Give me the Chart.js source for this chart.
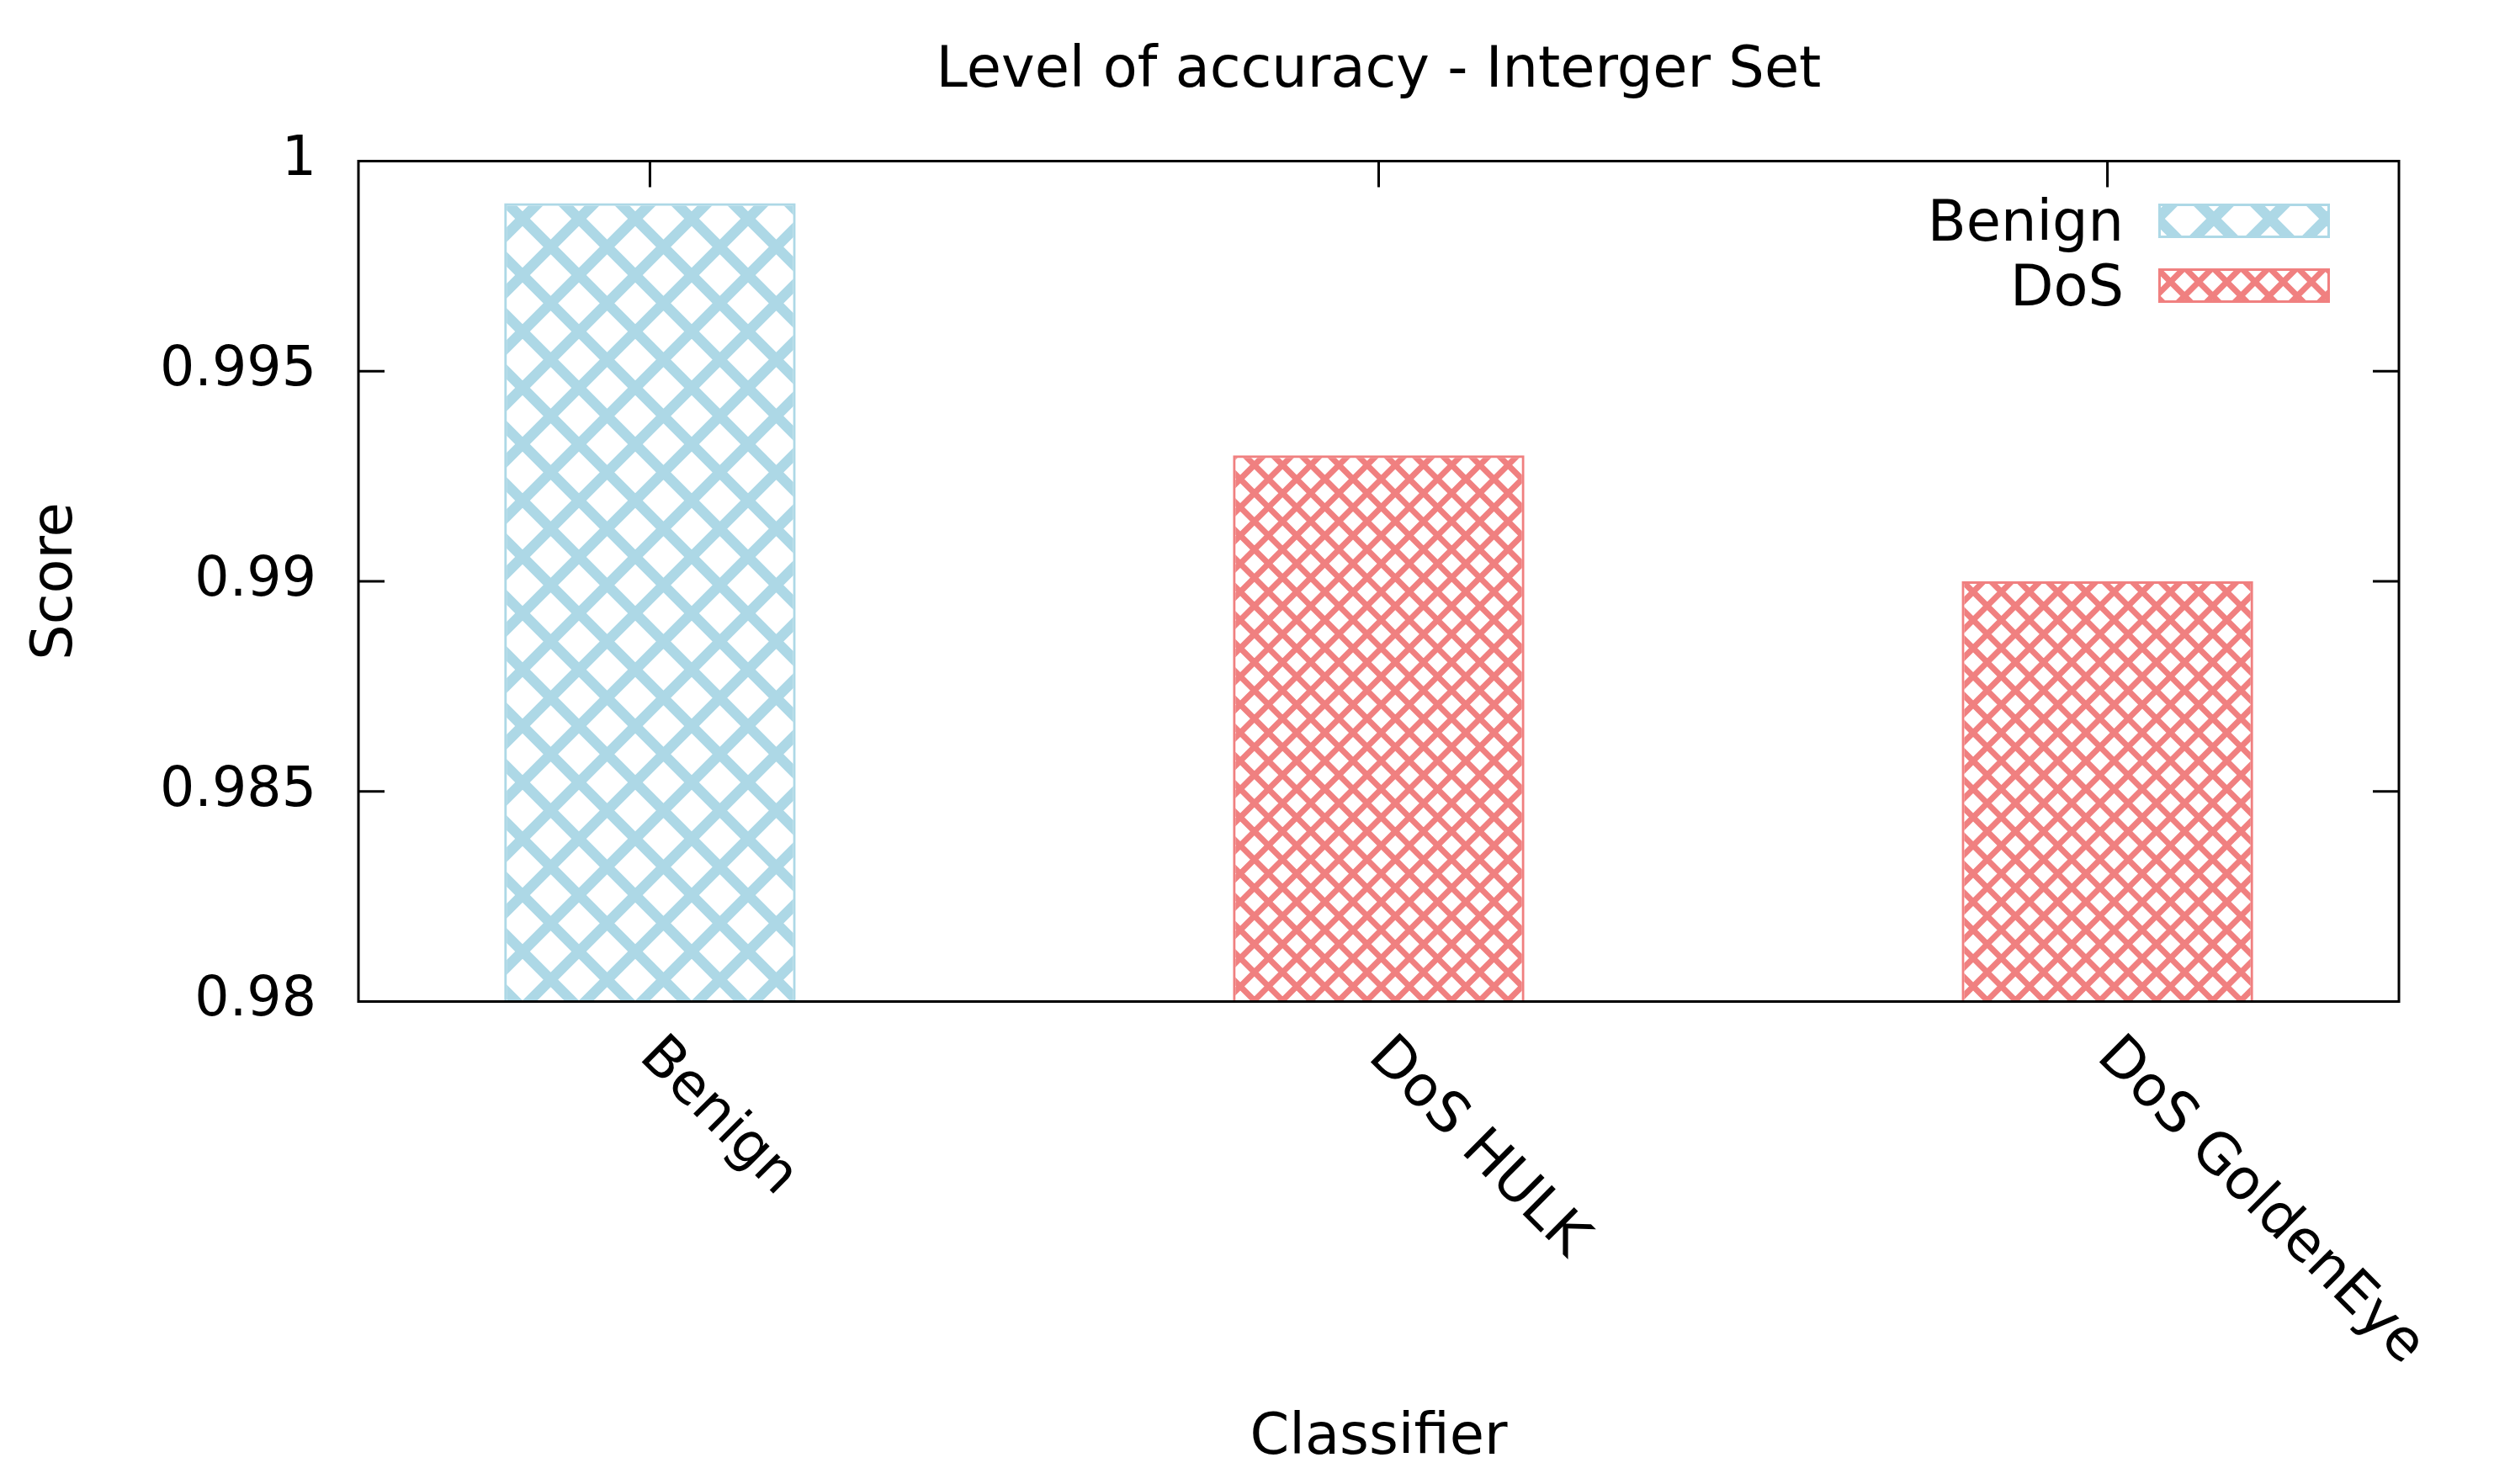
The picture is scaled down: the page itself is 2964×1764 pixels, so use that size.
<!DOCTYPE html>
<html>
<head>
<meta charset="utf-8">
<title>Level of accuracy - Interger Set</title>
<script src="https://cdn.jsdelivr.net/npm/chart.js@4/dist/chart.umd.min.js"></script>
<style>
  html, body { margin: 0; padding: 0; background: #fff; }
</style>
</head>
<body>
<canvas id="accChart" width="2964" height="1764"></canvas>
<script>
// data
const categories = ["Benign", "DoS HULK", "DoS GoldenEye"];
const classOf = ["Benign", "DoS", "DoS"];
const scores = [0.999, 0.993, 0.990];
const seriesNames = ["Benign", "DoS"];
const yTicks = [0.98, 0.985, 0.99, 0.995, 1];

const FONT = "DejaVu Sans";
Chart.defaults.font.family = FONT;
Chart.defaults.font.size = 67;
Chart.defaults.color = "#000";

// crosshatch fill like gnuplot's pattern
function hatch(color, tile, lines, lw, dx, dy) {
  const c = document.createElement("canvas");
  c.width = tile; c.height = tile;
  const g = c.getContext("2d");
  g.strokeStyle = color;
  g.lineWidth = lw;
  const step = tile / lines;
  g.beginPath();
  for (let k = -lines; k <= lines; k++) {
    const o = k * step;
    g.moveTo(o, 0); g.lineTo(o + tile, tile);
    g.moveTo(o + tile, 0); g.lineTo(o, tile);
  }
  g.stroke();
  const p = g.createPattern(c, "repeat");
  p.setTransform(new DOMMatrix().translateSelf(dx, dy));
  return p;
}

const colors = { Benign: "#add8e6", DoS: "#f08080" };
const fills = {
  Benign: hatch(colors.Benign, 67, 1, 12.5, 18, 59),
  DoS: hatch(colors.DoS, 67, 2, 7, 0, 0)
};

const datasets = seriesNames.map(name => ({
  label: name,
  data: categories
    .map((c, i) => ({ x: i, y: scores[i] }))
    .filter((p, i) => classOf[i] === name),
  backgroundColor: fills[name],
  borderColor: colors[name],
  borderWidth: 3,
  grouped: false,
  barPercentage: 0.4,
  categoryPercentage: 1
}));

// border, inward ticks, rotated category labels, key
const frame = {
  id: "frame",
  afterDatasetsDraw(chart) {
    const { ctx, chartArea: a, scales: { x, y } } = chart;
    ctx.save();
    ctx.strokeStyle = "#000";
    ctx.lineWidth = 3;
    ctx.beginPath();
    y.ticks.forEach(t => {
      const py = y.getPixelForValue(t.value);
      ctx.moveTo(a.left, py); ctx.lineTo(a.left + 31, py);
      ctx.moveTo(a.right, py); ctx.lineTo(a.right - 31, py);
    });
    x.ticks.forEach(t => {
      const px = x.getPixelForValue(t.value);
      ctx.moveTo(px, a.top); ctx.lineTo(px, a.top + 31);
    });
    ctx.stroke();
    ctx.strokeRect(a.left, a.top, a.right - a.left, a.bottom - a.top);

    ctx.fillStyle = "#000";
    ctx.font = "67px '" + FONT + "'";
    ctx.textAlign = "left";
    ctx.textBaseline = "middle";
    categories.forEach((c, i) => {
      ctx.save();
      ctx.translate(x.getPixelForValue(i) - 2, a.bottom + 55);
      ctx.rotate(Math.PI / 4);
      ctx.fillText(c, 0, 0);
      ctx.restore();
    });

    // key
    chart.data.datasets.forEach((ds, i) => {
      const cy = a.top + 71 + i * 77;
      ctx.fillStyle = "#000";
      ctx.textAlign = "right";
      ctx.fillText(ds.label, a.right - 327, cy + 6);
      const x0 = a.right - 286, w = 204, h = 41;
      ctx.fillStyle = ds.backgroundColor;
      ctx.fillRect(x0, cy - h / 2, w, h);
      ctx.strokeStyle = ds.borderColor;
      ctx.lineWidth = 3;
      ctx.strokeRect(x0 + 1.5, cy - h / 2 + 1.5, w - 3, h - 3);
    });
    ctx.restore();
  }
};

new Chart(document.getElementById("accChart"), {
  type: "bar",
  data: { datasets: datasets },
  options: {
    responsive: false,
    animation: false,
    devicePixelRatio: 1,
    events: [],
    layout: { padding: { left: 0, right: 113, top: 0, bottom: 0 } },
    plugins: {
      legend: { display: false },
      tooltip: { enabled: false },
      title: {
        display: true,
        text: "Level of accuracy - Interger Set",
        fullSize: false,
        font: { size: 67, weight: "normal" },
        color: "#000",
        padding: { top: 45, bottom: 66.1 }
      }
    },
    scales: {
      x: {
        type: "linear",
        min: -0.4,
        max: 2.4,
        offset: false,
        afterBuildTicks: s => { s.ticks = categories.map((c, i) => ({ value: i })); },
        grid: { display: false, drawTicks: false, offset: false },
        border: { display: false },
        ticks: { display: false },
        title: {
          display: true,
          text: "Classifier",
          font: { size: 67 },
          color: "#000",
          padding: { top: 479.6, bottom: 13.5 }
        }
      },
      y: {
        min: 0.98,
        max: 1,
        beginAtZero: false,
        afterBuildTicks: s => { s.ticks = yTicks.map(v => ({ value: v })); },
        afterFit: s => { s.width = 426; },
        grid: { display: false, drawTicks: false },
        border: { display: false },
        ticks: {
          padding: 50,
          color: "#000",
          font: { size: 65 },
          callback: v => String(+v.toFixed(3))
        },
        title: {
          display: true,
          text: "Score",
          font: { size: 67 },
          color: "#000",
          padding: { top: 27.5, bottom: 40 }
        }
      }
    }
  },
  plugins: [frame]
});
</script>
</body>
</html>
